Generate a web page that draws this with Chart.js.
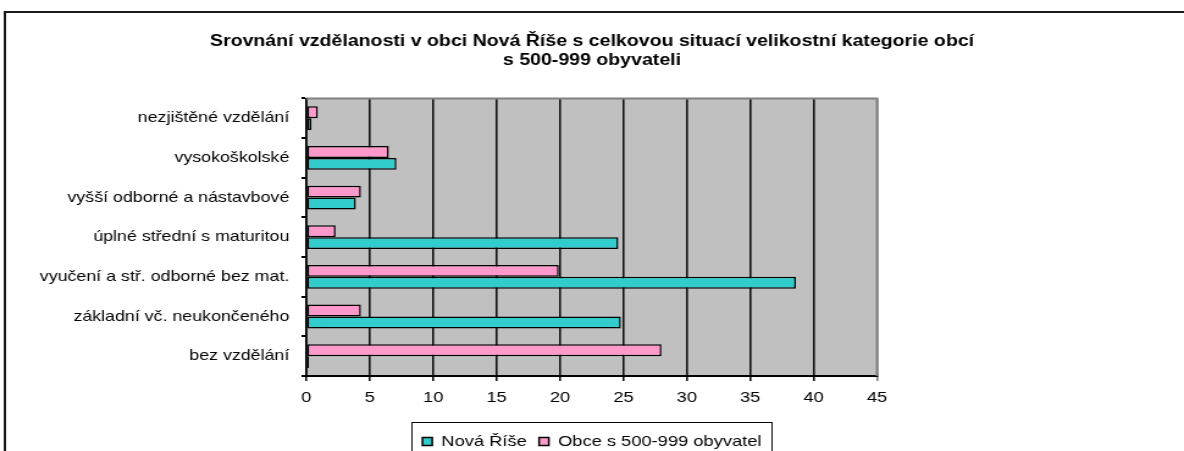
<!DOCTYPE html>
<html>
<head>
<meta charset="utf-8">
<script src="https://cdn.jsdelivr.net/npm/chart.js@4.4.1/dist/chart.umd.min.js"></script>
<style>
  html, body { margin: 0; padding: 0; background: #fff; overflow: hidden; }
  /* the original picture is stretched sideways, so the canvas is drawn narrower and widened */
  #chart { display: block; width: 1184px; height: 451px; }
</style>
</head>
<body>
<canvas id="chart" width="970" height="451" style="width:1184px;height:451px"></canvas>
<script>
// data (top to bottom)
const categories = [
    'nezjištěné vzdělání',
    'vysokoškolské',
    'vyšší odborné a nástavbové',
    'úplné střední s maturitou',
    'vyučení a stř. odborné bez mat.',
    'základní vč. neukončeného',
    'bez vzdělání'
];
const novaRise = [0.4, 7.1, 3.9, 24.6, 38.6, 24.8, 0.2];
const obce500 = [0.9, 6.5, 4.3, 2.3, 19.9, 4.3, 28.0];
const xTicks = [0, 5, 10, 15, 20, 25, 30, 35, 40, 45];

const titleLines = [
    'Srovnání vzdělanosti v obci Nová Říše s celkovou situací velikostní kategorie obcí',
    's 500-999 obyvateli'
];

Chart.defaults.font.family = '"Liberation Sans", Arial, sans-serif';
Chart.defaults.color = '#000';

// frame, grey plot background, legend box
const decor = {
    id: 'decor',
    beforeDraw(chart) {
        const { ctx, chartArea: a } = chart;
        ctx.save();
        ctx.fillStyle = '#c0c0c0';
        ctx.fillRect(a.left, a.top, a.right - a.left, a.bottom - a.top);
        ctx.restore();
    },
    afterDraw(chart) {
        const { ctx, chartArea: a } = chart;
        ctx.save();
        // plot top/right border
        ctx.strokeStyle = '#808080';
        ctx.lineWidth = 2;
        ctx.beginPath();
        ctx.moveTo(a.left, a.top);
        ctx.lineTo(a.right, a.top);
        ctx.lineTo(a.right, a.bottom);
        ctx.stroke();
        // outer frame
        ctx.strokeStyle = '#1a1a1a';
        ctx.lineWidth = 2;
        ctx.beginPath();
        ctx.moveTo(chart.width, 12);
        ctx.lineTo(4, 12);
        ctx.lineTo(4, chart.height);
        ctx.stroke();
        // legend frame
        const boxes = chart.legend.legendHitBoxes;
        if (boxes && boxes.length) {
            const first = boxes[0], last = boxes[boxes.length - 1];
            const l = Math.min(first.left, last.left) - 9;
            const r = Math.max(first.left + first.width, last.left + last.width) + 8;
            const t = first.top - 12;
            ctx.strokeStyle = '#000';
            ctx.lineWidth = 1;
            ctx.strokeRect(Math.round(l) + 0.5, Math.round(t) + 0.5, Math.round(r - l), 60);
        }
        ctx.restore();
    }
};

new Chart(document.getElementById('chart'), {
    type: 'bar',
    data: {
        labels: categories,
        datasets: [
            {
                label: 'Obce s 500-999 obyvatel',
                data: obce500,
                backgroundColor: '#ff99cc',
                borderColor: '#000',
                borderWidth: 1.5,
                borderSkipped: false
            },
            {
                label: 'Nová Říše',
                data: novaRise,
                backgroundColor: '#33cccc',
                borderColor: '#000',
                borderWidth: 1.5,
                borderSkipped: false
            }
        ]
    },
    options: {
        indexAxis: 'y',
        responsive: false,
        devicePixelRatio: 1,
        animation: false,
        datasets: {
            bar: { categoryPercentage: 0.6, barPercentage: 1 }
        },
        layout: { padding: { left: 10, right: 10, top: 0, bottom: -8 } },
        plugins: {
            title: {
                display: true,
                text: titleLines,
                font: { size: 16, weight: 'bold' },
                color: '#000',
                padding: { top: 32, bottom: 28 }
            },
            legend: {
                position: 'bottom',
                reverse: true,
                labels: {
                    boxWidth: 8,
                    boxHeight: 8,
                    padding: 10,
                    font: { size: 15 },
                    color: '#000'
                }
            },
            tooltip: { enabled: false }
        },
        scales: {
            x: {
                min: 0,
                max: 45,
                afterBuildTicks(axis) {
                    axis.ticks = xTicks.map(v => ({ value: v }));
                },
                afterFit(axis) { axis.height = 48; },
                ticks: { font: { size: 15 }, padding: 8, color: '#000' },
                grid: {
                    color: ctx => ctx.index === xTicks.length - 1 ? '#808080' : '#111',
                    lineWidth: 1.6,
                    tickLength: 5
                },
                border: { color: '#000', width: 2 }
            },
            y: {
                afterFit(axis) { axis.width = 241; },
                ticks: { font: { size: 14.6 }, padding: 10, color: '#000' },
                grid: {
                    offset: true,
                    drawOnChartArea: false,
                    color: '#000',
                    lineWidth: 2,
                    tickLength: 4
                },
                border: { color: '#000', width: 1.6 }
            },
            // empty right-hand space so the title and legend centre over the plot
            yRight: {
                type: 'category',
                position: 'right',
                afterFit(axis) { axis.width = 241.5; },
                ticks: { display: false },
                grid: { display: false },
                border: { display: false }
            }
        }
    },
    plugins: [decor]
});
</script>
</body>
</html>
